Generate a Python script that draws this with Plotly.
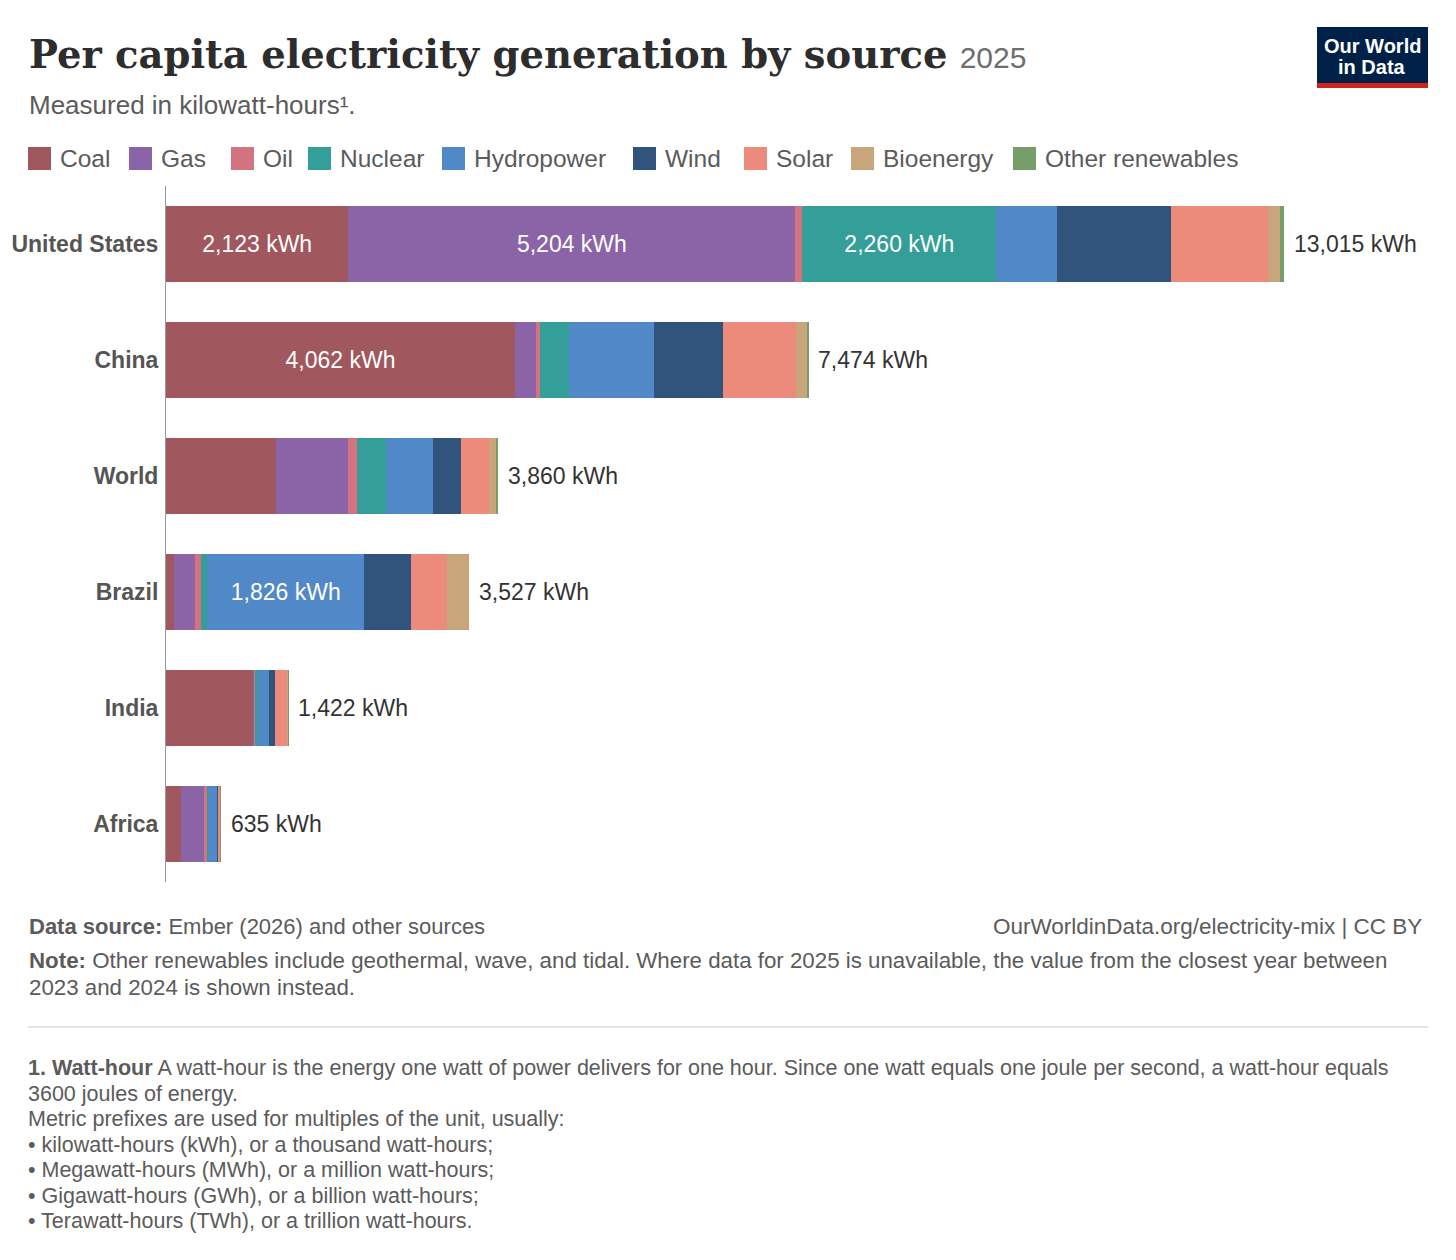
import plotly.graph_objects as go

# data (kWh per person, 2025)
regions = ["United States", "China", "World", "Brazil", "India", "Africa"]
sources = ["Coal", "Gas", "Oil", "Nuclear", "Hydropower", "Wind", "Solar",
           "Bioenergy", "Other renewables"]

coal = [2123, 4062, 1281, 93, 1010, 171]
gas = [5204, 240, 841, 248, 25, 268]
oil = [80, 50, 98, 66, 3, 46]
nuclear = [2260, 340, 345, 74, 37, 8]
hydro = [700, 990, 540, 1826, 128, 104]
wind = [1327, 800, 329, 545, 68, 18]
solar = [1137, 850, 330, 416, 140, 15]
bio = [138, 140, 85, 259, 10, 3]
other = [46, 2, 11, 0, 1, 2]
totals = [13015, 7474, 3860, 3527, 1422, 635]

colors = ["#a0575e", "#8b64a7", "#d3737f", "#349e98", "#5188c7",
          "#30547c", "#ec8a7b", "#c9a57b", "#779e68"]

series = [coal, gas, oil, nuclear, hydro, wind, solar, bio, other]

note_lines = [
    "<b>Note:</b> Other renewables include geothermal, wave, and tidal. Where data for 2025 "
    "is unavailable, the value from the closest year between",
    "2023 and 2024 is shown instead.",
]
foot_lines = [
    "<b>1. Watt-hour</b> A watt-hour is the energy one watt of power delivers for one hour. "
    "Since one watt equals one joule per second, a watt-hour equals",
    "3600 joules of energy.",
    "Metric prefixes are used for multiples of the unit, usually:",
    "• kilowatt-hours (kWh), or a thousand watt-hours;",
    "• Megawatt-hours (MWh), or a million watt-hours;",
    "• Gigawatt-hours (GWh), or a billion watt-hours;",
    "• Terawatt-hours (TWh), or a trillion watt-hours.",
]

FONT = "Liberation Sans"
GREY = "#5b5b5b"

# the page body adds an 8px margin, so the figure is 16px smaller than the window
OFF = 8
W, H = 1440, 1244
L, R, T, B = 158, 18, 178, 370
pw, ph = W - L - R, H - T - B


def px(x):
    return (x - OFF - L) / pw


def py(y):
    return (H - B - (y - OFF)) / ph


def text_ann(x, y, text, size, color=GREY, anchor="left", family=FONT, **kw):
    return dict(x=px(x), y=py(y), xref="paper", yref="paper", text=text,
                showarrow=False, xanchor=anchor, yanchor="middle",
                font=dict(family=family, size=size, color=color), **kw)


fig = go.Figure()
for name, vals, col in zip(sources, series, colors):
    fig.add_trace(go.Bar(
        name=name, y=regions, x=vals, orientation="h",
        marker=dict(color=col, line=dict(width=0)),
        text=[f"{v:,} kWh" if v >= 1500 else "" for v in vals],
        textposition="inside", insidetextanchor="middle",
        textfont=dict(family=FONT, size=23, color="white"),
        hoverinfo="skip", showlegend=False,
    ))

ann = []
shapes = []

# totals at bar ends
for reg, tot in zip(regions, totals):
    ann.append(dict(x=tot, y=reg, xref="x", yref="y", text=f"{tot:,} kWh",
                    showarrow=False, xanchor="left", xshift=8,
                    font=dict(family=FONT, size=23, color="#333333")))

# custom legend row
leg_x = [28, 129, 231, 308, 442, 633, 744, 851, 1013]
for name, col, lx in zip(sources, colors, leg_x):
    shapes.append(dict(type="rect", xref="paper", yref="paper",
                       x0=px(lx), x1=px(lx + 23), y0=py(170), y1=py(147),
                       fillcolor=col, line=dict(width=0)))
    ann.append(text_ann(lx + 30, 158, name, 24.5))

# title + subtitle
ann.append(text_ann(
    27, 55,
    "<b>Per capita electricity generation by source</b> "
    "<span style='font-family:Liberation Sans;font-size:30px;color:#6e6e6e'>2025</span>",
    38.5, color="#2d2d2d", family="DejaVu Serif"))
ann.append(text_ann(27, 105, "Measured in kilowatt-hours¹.", 26))

# logo
shapes.append(dict(type="rect", xref="paper", yref="paper", x0=px(1317), x1=px(1428),
                   y0=py(83), y1=py(27), fillcolor="#002147", line=dict(width=0)))
shapes.append(dict(type="rect", xref="paper", yref="paper", x0=px(1317), x1=px(1428),
                   y0=py(88), y1=py(83), fillcolor="#ce261e", line=dict(width=0)))
ann.append(text_ann(1372, 46, "<b>Our World</b>", 20, color="white", anchor="center",
                    family="Liberation Sans Narrow, Liberation Sans"))
ann.append(text_ann(1372, 67, "<b>in Data</b>", 20, color="white", anchor="center",
                    family="Liberation Sans Narrow, Liberation Sans"))

# footer
ann.append(text_ann(27, 926, "<b>Data source:</b> Ember (2026) and other sources", 22))
ann.append(text_ann(1424, 926, "OurWorldinData.org/electricity-mix | CC BY", 22.5,
                    anchor="right"))
for i, line in enumerate(note_lines):
    ann.append(text_ann(27, 961 + 26 * i, line, 22.3))
shapes.append(dict(type="line", xref="paper", yref="paper", x0=px(28), x1=px(1428),
                   y0=py(1027), y1=py(1027), line=dict(color="#dddddd", width=1.5)))
for i, line in enumerate(foot_lines):
    ann.append(text_ann(26, 1068 + 25.5 * i, line, 21.5))

fig.update_layout(
    width=W, height=H,
    margin=dict(l=L, r=R, t=T, b=B, autoexpand=False),
    barmode="stack", bargap=0.353,
    plot_bgcolor="white", paper_bgcolor="white",
    xaxis=dict(range=[0, pw / 0.0859], visible=False, fixedrange=True),
    yaxis=dict(autorange="reversed", showline=True, linecolor="#999999", linewidth=1,
               showgrid=False, ticks="outside", ticklen=2, tickcolor="rgba(0,0,0,0)",
               tickfont=dict(family=FONT, size=23, color="#555555", weight="bold"),
               fixedrange=True),
    annotations=ann, shapes=shapes,
    uniformtext=dict(mode="show", minsize=10),
)

fig.write_html("out.html")
